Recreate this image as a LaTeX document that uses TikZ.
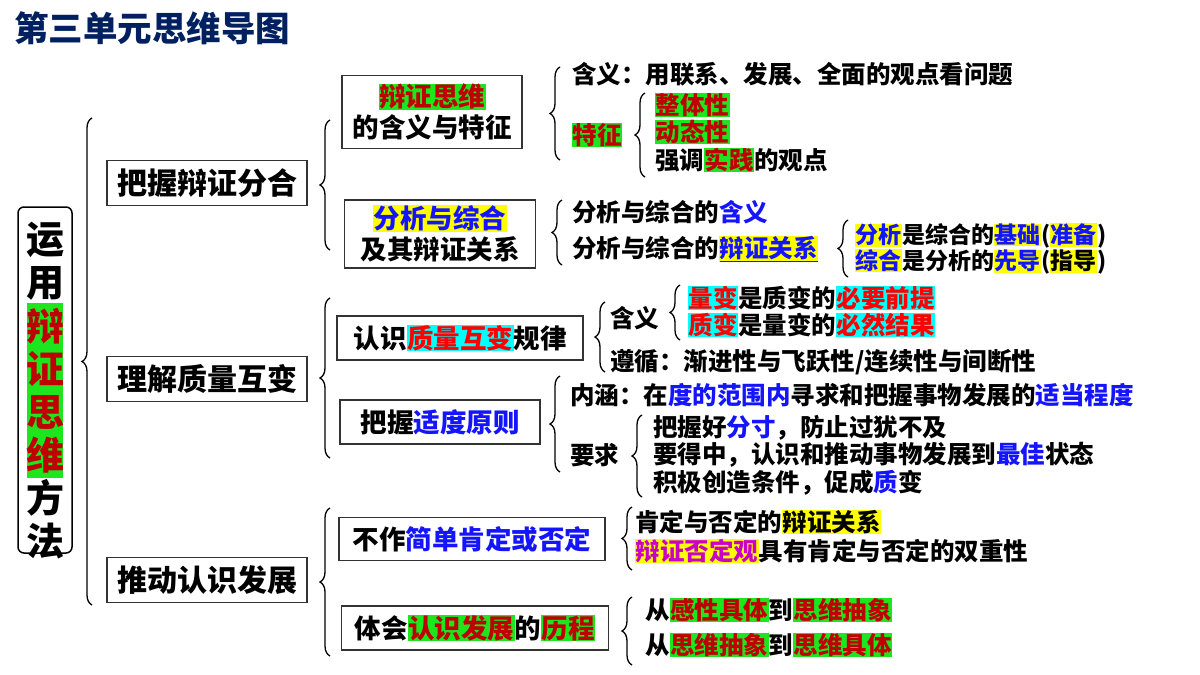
\documentclass[tikz,border=0pt]{standalone}
\usepackage{fontspec}
\setmainfont{Noto Sans CJK SC}
\usepackage{xcolor}
\usepackage{tikz}
\usetikzlibrary{decorations.pathreplacing}
\definecolor{dred}{RGB}{192,0,0}
\definecolor{myblue}{RGB}{20,20,255}
\definecolor{hlgreen}{RGB}{30,230,30}
\definecolor{hlyellow}{RGB}{255,255,0}
\definecolor{hlcyan}{RGB}{0,255,255}
\definecolor{mymag}{RGB}{200,0,200}
\definecolor{navy}{RGB}{0,32,96}
\setlength{\fboxsep}{0.5pt}
\newcommand\hlbox[3]{\colorbox{#1}{\textcolor{#2}{#3}}}
\newcommand\hlg[1]{\hlbox{hlgreen}{dred}{#1}}
\newcommand\hly[2][myblue]{\hlbox{hlyellow}{#1}{#2}}
\newcommand\hlc[1]{\hlbox{hlcyan}{red}{#1}}
\newcommand\blu[1]{\textcolor{myblue}{#1}}
\tikzset{box/.style={draw=black!80, line width=1.1pt, inner sep=0pt, align=center},
  leaf/.style={anchor=west, inner sep=0pt, font=\bfseries\fontsize{24.5}{28}\selectfont},
  brc/.style={decorate, decoration={brace, amplitude=10pt}, line width=1.3pt}}

\begin{document}
\begin{tikzpicture}[x=1pt, y=-1pt]
  \useasboundingbox[fill=white] (0,0) rectangle (1200,675);
  \node[anchor=west, inner sep=0pt, text=navy, font=\bfseries\fontsize{34.5}{38}\selectfont] (title) at (14,28) {第三单元思维导图};

  % root
  \fill[hlgreen] (27,303) rectangle (63,478);
  \node[draw, line width=1.5pt, rounded corners=6pt, minimum width=54, minimum height=346] (root) at (45,380) {};
  \foreach \c/\i in {运/0,用/1,方/6,法/7}
    \node[font=\bfseries\fontsize{38}{40}\selectfont, inner sep=0pt] at (45,240+43*\i) {\c};
  \foreach \c/\i in {辩/2,证/3,思/4,维/5}
    \node[font=\bfseries\fontsize{38}{40}\selectfont, inner sep=0pt, text=dred] at (45,240+43*\i) {\c};

  % level 1
  \begin{scope}[every node/.style={box, minimum width=200, minimum height=45, font=\bfseries\fontsize{30}{34}\selectfont}]
    \node (fenhe) at (207,183) {把握辩证分合};
    \node (zhiliang) at (207,379) {理解质量互变};
    \node (fazhan) at (207,580) {推动认识发展};
  \end{scope}
  \draw[brc] (92,605) -- (92,118);

  % level 2
  \begin{scope}[every node/.style={box, font=\bfseries\fontsize{26.5}{31}\selectfont}]
    \node[minimum width=180, minimum height=73] (hanyi) at (432,112) {\hlg{辩证思维}\\的含义与特征};
    \node[minimum width=191, minimum height=68] (fenxi) at (440,234) {\hly{分析与综合}\\及其辩证关系};
    \node[minimum width=246, minimum height=44] (guilv) at (460,338) {认识\hlc{质量互变}规律};
    \node[minimum width=200, minimum height=44] (shidu) at (440,422) {把握\blu{适度原则}};
    \node[minimum width=266, minimum height=43] (fouding) at (472,539) {不作\blu{简单肯定或否定}};
    \node[minimum width=267, minimum height=44] (licheng) at (475,628) {体会\hlg{认识发展}的\hlg{历程}};
  \end{scope}
  \draw[brc] (330,250) -- (330,120);
  \draw[brc] (330,458) -- (330,298);
  \draw[brc] (330,656) -- (330,508);

  % leaves
  \node[leaf] (l1) at (572,74) {含义：用联系、发展、全面的观点看问题};
  \node[leaf] (l2) at (572,135) {\hlg{特征}};
  \node[leaf] (l3) at (655,105) {\hlg{整体性}};
  \node[leaf] (l4) at (655,132) {\hlg{动态性}};
  \node[leaf] (l5) at (655,160) {强调\hlg{实践}的观点};
  \node[leaf] (l6) at (572,212) {分析与综合的\blu{含义}};
  \node[leaf] (l7) at (572,249) {分析与综合的\hly{\underline{辩证关系}}};
  \node[leaf, font=\bfseries\fontsize{23}{26}\selectfont] (l8) at (855,236) {\hly{分析}是综合的\hly{基础}(\hly{准备})};
  \node[leaf, font=\bfseries\fontsize{23}{26}\selectfont] (l9) at (855,262) {\hly{综合}是分析的\hly{先导}(\hly[black]{指导})};
  \node[leaf] (l10) at (610,318) {含义};
  \node[leaf] (l11) at (610,362) {遵循：渐进性与飞跃性/连续性与间断性};
  \node[leaf] (l12) at (688,298) {\hlc{量变}是质变的\hlc{必要前提}};
  \node[leaf] (l13) at (688,325) {\hlc{质变}是量变的\hlc{必然结果}};
  \node[leaf] (l14) at (570,395) {内涵：在\blu{度的范围内}寻求和把握事物发展的\blu{适当程度}};
  \node[leaf] (l15) at (570,455) {要求};
  \node[leaf] (l16) at (653,428) {把握好\blu{分寸}，防止过犹不及};
  \node[leaf] (l17) at (653,455) {要得中，认识和推动事物发展到\blu{最佳}状态};
  \node[leaf] (l18) at (653,483) {积极创造条件，促成\blu{质}变};
  \node[leaf] (l19) at (635,522) {肯定与否定的\hly[black]{辩证关系}};
  \node[leaf] (l20) at (635,551) {\hly[mymag]{辩证否定观}具有肯定与否定的双重性};
  \node[leaf] (l21) at (645,610) {从\hlg{感性具体}到\hlg{思维抽象}};
  \node[leaf] (l22) at (645,645) {从\hlg{思维抽象}到\hlg{思维具体}};

  \draw[brc] (560,160) -- (560,67);
  \draw[brc] (645,177) -- (645,93);
  \draw[brc] (562,265) -- (562,200);
  \draw[brc] (848,277) -- (848,220);
  \draw[brc] (605,372) -- (605,302);
  \draw[brc] (680,340) -- (680,285);
  \draw[brc] (560,472) -- (560,376);
  \draw[brc] (642,497) -- (642,415);
  \draw[brc] (632,570) -- (632,507);
  \draw[brc] (632,665) -- (632,597);
\end{tikzpicture}
\end{document}
